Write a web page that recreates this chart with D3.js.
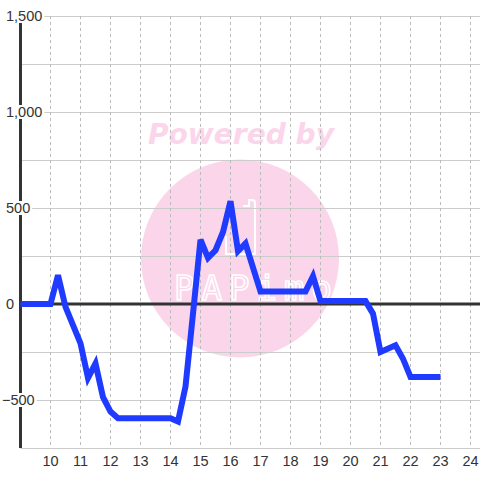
<!DOCTYPE html>
<html>
<head>
<meta charset="utf-8">
<script src="https://cdn.jsdelivr.net/npm/d3@7"></script>
<style>
  html, body { margin: 0; padding: 0; background: #ffffff; }
  svg { display: block; }
</style>
</head>
<body>
<svg id="chart" width="480" height="480"></svg>
<script>
const hours = [9, 10, 10.25, 10.5, 10.75, 11, 11.25, 11.5, 11.75, 12, 12.25, 14, 14.25, 14.5, 14.75, 15, 15.25, 15.5, 15.75, 16, 16.25, 16.5, 17, 18.5, 18.75, 19, 20.5, 20.75, 21, 21.5, 21.75, 22, 23];
const values = [0, 0, 150, -15, -110, -205, -385, -310, -485, -560, -595, -595, -612, -430, -50, 335, 240, 280, 375, 535, 275, 315, 65, 65, 145, 15, 15, -50, -250, -215, -285, -380, -380];
const yTicks = [1500, 1000, 500, 0, -500];
const yGrid = [1500, 1250, 1000, 750, 500, 250, -250, -500, -750];
const xTicks = [10, 11, 12, 13, 14, 15, 16, 17, 18, 19, 20, 21, 22, 23, 24];

const svg = d3.select("#chart");
const x = d3.scaleLinear().domain([9, 24.3]).range([20.5, 479.5]);
const y = d3.scaleLinear().domain([-750, 1500]).range([448, 16]);

// watermark
const wm = svg.append("g");
wm.append("circle").attr("cx", 240).attr("cy", 258.5).attr("r", 99).attr("fill", "#fbd6eb");
wm.append("text").attr("x", 241).attr("y", 144).attr("text-anchor", "middle")
  .attr("font-family", "DejaVu Sans, sans-serif").attr("font-weight", "bold").attr("font-style", "italic")
  .attr("font-size", 28).attr("textLength", 186).attr("lengthAdjust", "spacingAndGlyphs")
  .attr("fill", "#fbd6eb").text("Powered by");
wm.append("path")
  .attr("d", "M226,236 L226,254 L255,254 L255,203 Q255,200 252,200 L249,200 L249,206 L243,206")
  .attr("fill", "none").attr("stroke", "#ffffff").attr("stroke-width", 2);
wm.append("text").attr("x", 174).attr("y", 300)
  .attr("font-family", "DejaVu Sans Mono, monospace").attr("font-size", 34)
  .attr("textLength", 158).attr("lengthAdjust", "spacing")
  .attr("fill", "none").attr("stroke", "#ffffff").attr("stroke-width", 1.6).text("PAPimo");

// grid
svg.append("g").selectAll("line.h").data(yGrid).join("line")
  .attr("x1", x(9)).attr("x2", 480)
  .attr("y1", d => Math.round(y(d)) + 0.5).attr("y2", d => Math.round(y(d)) + 0.5)
  .attr("stroke", "#cccccc").attr("stroke-width", 1);
svg.append("g").selectAll("line.v").data(xTicks).join("line")
  .attr("x1", d => x(d)).attr("x2", d => x(d))
  .attr("y1", y(1500)).attr("y2", y(-750))
  .attr("stroke", "#bbbbbb").attr("stroke-width", 1).attr("stroke-dasharray", "3,3");

// zero line
svg.append("line").attr("x1", x(9)).attr("x2", 480)
  .attr("y1", y(0)).attr("y2", y(0)).attr("stroke", "#333333").attr("stroke-width", 3);

// y axis line
svg.append("line").attr("x1", x(9)).attr("x2", x(9))
  .attr("y1", y(1500)).attr("y2", y(-750)).attr("stroke", "#333333").attr("stroke-width", 3);

// y labels with background
const fmt = d3.format(",");
const yl = svg.append("g").selectAll("g").data(yTicks).join("g");
yl.each(function(d) {
  const g = d3.select(this);
  const t = g.append("text")
    .attr("x", d < 0 ? 2 : 6).attr("y", y(d)).attr("dy", "0.35em")
    .attr("font-family", "Liberation Sans, Arial, sans-serif").attr("font-size", 14.5)
    .attr("fill", "#333333").text(fmt(d));
  const bb = t.node().getBBox();
  g.insert("rect", "text").attr("x", bb.x - 1).attr("y", y(d) - 7)
    .attr("width", bb.width + 3).attr("height", 14).attr("fill", "#ffffff");
});

// x labels
svg.append("g").selectAll("text").data(xTicks).join("text")
  .attr("x", d => x(d)).attr("y", 466).attr("text-anchor", "middle")
  .attr("font-family", "Liberation Sans, Arial, sans-serif").attr("font-size", 14.5)
  .attr("fill", "#333333").text(d => d);

// data line
const line = d3.line().x((d, i) => x(hours[i])).y(d => y(d));
svg.append("path").datum(values).attr("d", line)
  .attr("fill", "none").attr("stroke", "#1f3bff").attr("stroke-width", 6)
  .attr("stroke-linejoin", "miter");
</script>
</body>
</html>
